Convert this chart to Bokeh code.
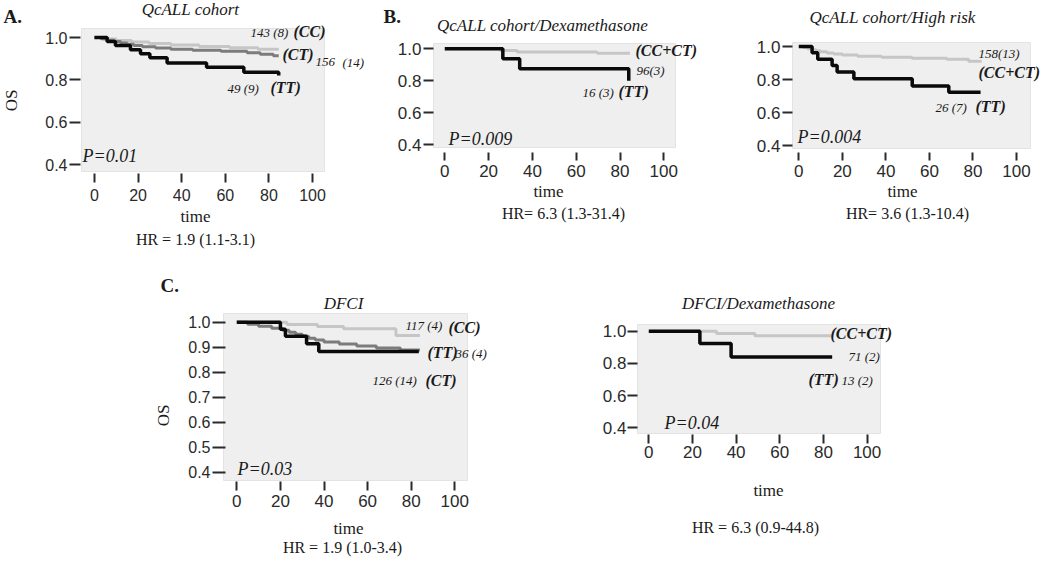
from bokeh.plotting import figure
from bokeh.models import Range1d, FixedTicker, Label, LinearAxis, PrintfTickFormatter
from bokeh.embed import file_html
from bokeh.resources import INLINE
import math

# ---------------- data ----------------
x_ticks = [0, 20, 40, 60, 80, 100]
y_ticks_coarse = [0.4, 0.6, 0.8, 1.0]
y_ticks_fine = [0.4, 0.5, 0.6, 0.7, 0.8, 0.9, 1.0]

# Panel A: QcALL cohort
a_cc_t = [0, 4, 10, 17, 25, 35, 48, 62, 75, 84.5]
a_cc_s = [1.0, 0.993, 0.986, 0.979, 0.972, 0.965, 0.958, 0.951, 0.945, 0.945]
a_ct_t = [0, 3, 6, 9, 12, 15, 18, 22, 28, 35, 45, 58, 70, 76, 82, 84.5]
a_ct_s = [1.0, 0.994, 0.987, 0.981, 0.974, 0.968, 0.962, 0.956, 0.950, 0.945, 0.940, 0.935, 0.928, 0.921, 0.914, 0.914]
a_tt_t = [0, 5.8, 9.6, 16.5, 21.1, 25.4, 33.3, 51.4, 68.5, 84.5]
a_tt_s = [1.0, 0.981, 0.962, 0.942, 0.923, 0.904, 0.880, 0.860, 0.836, 0.820]

# Panel B1: QcALL cohort / Dexamethasone
b1_cc_ct_t = [0, 25.4, 33, 69.6, 84.5]
b1_cc_ct_s = [1.0, 0.99, 0.98, 0.972, 0.972]
b1_tt_t = [0, 26.5, 34.2, 84]
b1_tt_s = [1.0, 0.9375, 0.875, 0.80]

# Panel B2: QcALL cohort / High risk
b2_cc_ct_t = [0, 2, 4, 6, 8, 10, 13, 16, 20, 27, 38, 52, 68, 78, 84]
b2_cc_ct_s = [1.0, 0.9935, 0.987, 0.9805, 0.974, 0.9675, 0.961, 0.9545, 0.948, 0.9415, 0.935, 0.9285, 0.922, 0.910, 0.910]
b2_tt_t = [0, 6.1, 8.7, 15.3, 17.6, 25.3, 52.1, 68.9, 83.5]
b2_tt_s = [1.0, 0.962, 0.923, 0.885, 0.846, 0.805, 0.760, 0.722, 0.722]

# Panel C1: DFCI
c1_cc_t = [0, 23, 37, 49, 73, 84]
c1_cc_s = [1.0, 0.991, 0.983, 0.974, 0.947, 0.947]
c1_ct_t = [0, 5, 10, 16, 21, 24, 27, 30, 33, 36, 40, 47, 55, 64, 75, 84]
c1_ct_s = [1.0, 0.992, 0.984, 0.976, 0.968, 0.960, 0.952, 0.944, 0.936, 0.929, 0.921, 0.913, 0.905, 0.897, 0.889, 0.889]
c1_tt_t = [0, 20, 22.3, 32, 37.6, 83.5]
c1_tt_s = [1.0, 0.972, 0.944, 0.914, 0.883, 0.883]

# Panel C2: DFCI / Dexamethasone
c2_cc_ct_t = [0, 31, 48.6, 84]
c2_cc_ct_s = [1.0, 0.986, 0.972, 0.972]
c2_tt_t = [0, 23.4, 37.7, 84]
c2_tt_s = [1.0, 0.923, 0.84, 0.84]

# ---------------- styling ----------------
SERIF = "Liberation Serif"
SANS = "Liberation Sans"
LIGHT = "#c6c6c6"
MID = "#7c7c7c"
DARK = "#0a0a0a"
PANEL_BG = "#efefef"
TXT = "#1a1a1a"
TICK = "#2a2a2a"

W, H = 1050, 561

p = figure(width=W, height=H, x_range=Range1d(0, W), y_range=Range1d(H, 0),
           output_backend="svg", toolbar_location=None,
           x_axis_location=None, y_axis_location=None,
           min_border_left=0, min_border_right=0, min_border_top=0, min_border_bottom=0)
p.outline_line_color = None
p.background_fill_color = "white"
p.border_fill_color = "white"
p.grid.visible = False
p.center = []


def panel(name, x0, kx, y1, ky, frame, yticks, xloc, xout, xfs, xso, yloc, yout, yfs, yso):
    """x0: page x of t=0, kx: px per unit time, y1: page y of S=1, ky: px per unit S."""
    nx, ny = name + "_x", name + "_y"
    p.extra_x_ranges[nx] = Range1d((0 - x0) / kx, (W - x0) / kx)
    p.extra_y_ranges[ny] = Range1d(1 - (H - y1) / ky, 1 + y1 / ky)
    fl, fr, ft, fb = frame
    p.quad(left=fl, right=fr, top=ft, bottom=fb, fill_color=PANEL_BG,
           line_color="#e3e3e3", line_width=1)

    xa = LinearAxis(x_range_name=nx, y_range_name=ny,
                    fixed_location=1 - (xloc - y1) / ky)
    ya = LinearAxis(x_range_name=nx, y_range_name=ny,
                    fixed_location=(yloc - x0) / kx)
    xa.ticker = FixedTicker(ticks=x_ticks)
    ya.ticker = FixedTicker(ticks=yticks)
    ya.formatter = PrintfTickFormatter(format="%.1f")
    for ax, tout, fs, so in ((xa, xout, xfs, xso), (ya, yout, yfs, yso)):
        ax.axis_line_color = None
        ax.major_tick_in = 0
        ax.major_tick_out = tout
        ax.minor_tick_in = 0
        ax.minor_tick_out = 0
        ax.major_tick_line_width = 2
        ax.major_tick_line_color = TICK
        ax.major_label_text_font = SANS
        ax.major_label_text_font_size = fs
        ax.major_label_text_color = TICK
        ax.major_label_standoff = so
    p.add_layout(xa, "below")
    p.add_layout(ya, "left")
    return nx, ny


def curve(names, t, s, color, width=3):
    p.step(t, s, mode="after", line_color=color, line_width=width,
           x_range_name=names[0], y_range_name=names[1])


def txt(px, py, text, size, style="normal", align="left", angle=0.0):
    p.add_layout(Label(x=px, y=py, text=text, text_font=SERIF,
                       text_font_size=f"{size}px", text_font_style=style,
                       text_align=align, text_baseline="middle", angle=angle,
                       text_color=TXT))


# ---- Panel A ----
na = panel("a", 94, 2.18, 37, 211.67, (81, 324, 28, 171), y_ticks_coarse,
           173, 9, "16px", 6, 80, 11, "16px", 2)
curve(na, a_cc_t, a_cc_s, LIGHT)
curve(na, a_ct_t, a_ct_s, MID)
curve(na, a_tt_t, a_tt_s, DARK, 3.5)
txt(3, 16, "A.", 19, "bold")
txt(190, 9, "QcALL cohort", 17, "italic", "center")
txt(11, 100, "OS", 17, "normal", "center", math.pi / 2)
txt(250, 32, "143 (8)", 13, "italic")
txt(293, 31, "(CC)", 16, "bold italic")
txt(282, 54, "(CT)", 16, "bold italic")
txt(315, 61, "156", 13, "italic")
txt(342, 62, "(14)", 13, "italic")
txt(227, 88, "49 (9)", 13, "italic")
txt(270, 87, "(TT)", 16, "bold italic")
txt(82, 155, "P=0.01", 18, "italic")
txt(195, 216, "time", 17, "normal", "center")
txt(195, 239, "HR = 1.9 (1.1-3.1)", 16, "normal", "center")

# ---- Panel B1 ----
nb1 = panel("b1", 444.3, 2.19, 48.3, 159.5, (433, 675, 43, 147), y_ticks_coarse,
            152, 8, "17px", 4, 433, 10, "17px", 2)
curve(nb1, b1_cc_ct_t, b1_cc_ct_s, LIGHT)
curve(nb1, b1_tt_t, b1_tt_s, DARK, 3.5)
txt(383, 16, "B.", 19, "bold")
txt(542, 25, "QcALL cohort/Dexamethasone", 17, "italic", "center")
txt(635, 50, "(CC+CT)", 16, "bold italic")
txt(636, 70, "96(3)", 13, "italic")
txt(582, 92, "16 (3)", 13, "italic")
txt(618, 91, "(TT)", 16, "bold italic")
txt(448, 138, "P=0.009", 18, "italic")
txt(548, 191, "time", 17, "normal", "center")
txt(563, 213, "HR= 6.3 (1.3-31.4)", 16, "normal", "center")

# ---- Panel B2 ----
nb2 = panel("b2", 798.3, 2.177, 46, 165, (792, 1030, 42, 148), y_ticks_coarse,
            152, 8, "17px", 4, 792, 10, "17px", 2)
curve(nb2, b2_cc_ct_t, b2_cc_ct_s, LIGHT)
curve(nb2, b2_tt_t, b2_tt_s, DARK, 3.5)
txt(892, 17, "QcALL cohort/High risk", 17, "italic", "center")
txt(978, 53, "158(13)", 13, "italic")
txt(978, 72, "(CC+CT)", 16, "bold italic")
txt(935, 107, "26 (7)", 13, "italic")
txt(975, 106, "(TT)", 16, "bold italic")
txt(797, 136, "P=0.004", 18, "italic")
txt(902, 191, "time", 17, "normal", "center")
txt(907, 213, "HR= 3.6 (1.3-10.4)", 16, "normal", "center")

# ---- Panel C1 ----
nc1 = panel("c1", 236.3, 2.18, 321.7, 250, (223, 467, 313, 480), y_ticks_fine,
            481, 9, "17px", 4, 225, 13, "16px", 2)
curve(nc1, c1_cc_t, c1_cc_s, LIGHT)
curve(nc1, c1_ct_t, c1_ct_s, MID)
curve(nc1, c1_tt_t, c1_tt_s, DARK, 3.5)
txt(160, 285, "C.", 19, "bold")
txt(343, 303, "DFCI", 17, "italic", "center")
txt(163, 415, "OS", 17, "normal", "center", math.pi / 2)
txt(405, 325, "117 (4)", 13, "italic")
txt(448, 327, "(CC)", 16, "bold italic")
txt(427, 352, "(TT)", 16, "bold italic")
txt(455, 353, "36 (4)", 13, "italic")
txt(372, 380, "126 (14)", 13, "italic")
txt(425, 380, "(CT)", 16, "bold italic")
txt(237, 468, "P=0.03", 18, "italic")
txt(348, 528, "time", 17, "normal", "center")
txt(344, 547, "HR  = 1.9 (1.0-3.4)", 16, "normal", "center")

# ---- Panel C2 ----
nc2 = panel("c2", 648.3, 2.183, 330.7, 161, (637, 880, 324, 433), y_ticks_coarse,
            434, 9, "17px", 2, 637, 10, "17px", 1)
curve(nc2, c2_cc_ct_t, c2_cc_ct_s, LIGHT)
curve(nc2, c2_tt_t, c2_tt_s, DARK, 3.5)
txt(758, 303, "DFCI/Dexamethasone", 17, "italic", "center")
txt(830, 333, "(CC+CT)", 16, "bold italic")
txt(848, 356, "71 (2)", 13, "italic")
txt(808, 379, "(TT)", 16, "bold italic")
txt(841, 380, "13 (2)", 13, "italic")
txt(664, 422, "P=0.04", 18, "italic")
txt(768, 490, "time", 17, "normal", "center")
txt(755, 527, "HR = 6.3 (0.9-44.8)", 16, "normal", "center")

open("out.html", "w").write(file_html(p, INLINE))
